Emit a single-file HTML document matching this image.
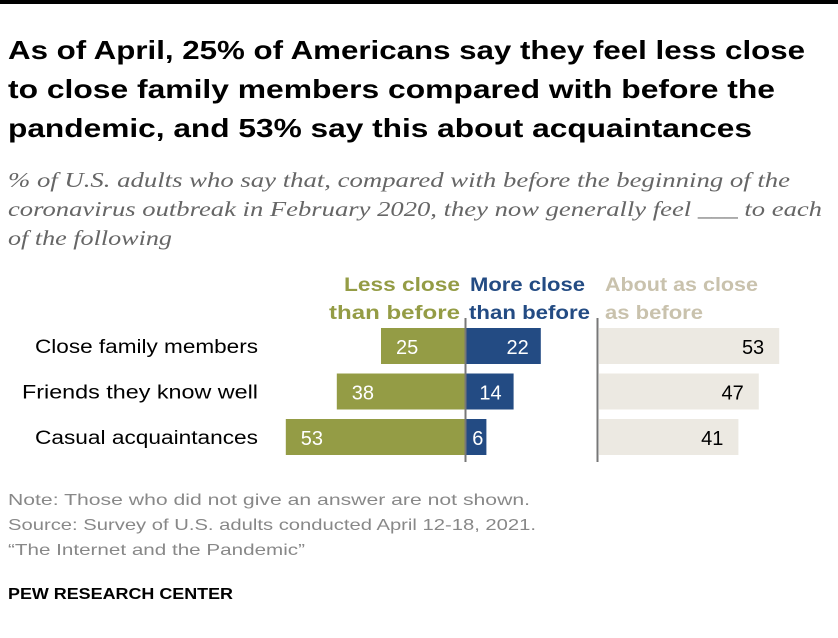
<!DOCTYPE html>
<html><head><meta charset="utf-8"><style>
body{margin:0;background:#fff;width:838px;height:638px;overflow:hidden;font-family:"Liberation Sans",sans-serif;position:relative}
.top{position:absolute;left:0;top:0;width:838px;height:4px;background:#000}
</style></head><body>
<div class="top"></div>
<svg id="c" width="838" height="638" style="position:absolute;left:0;top:0">
<g font-size="26" font-weight="bold" fill="#000" lengthAdjust="spacingAndGlyphs">
<text x="8" y="59" textLength="797" lengthAdjust="spacingAndGlyphs">As of April, 25% of Americans say they feel less close</text>
<text x="8" y="98" textLength="767" lengthAdjust="spacingAndGlyphs">to close family members compared with before the</text>
<text x="8" y="137" textLength="744" lengthAdjust="spacingAndGlyphs">pandemic, and 53% say this about acquaintances</text>
</g>
<g font-family="Liberation Serif, serif" font-style="italic" font-size="21" fill="#666">
<text x="8" y="187" textLength="782" lengthAdjust="spacingAndGlyphs">% of U.S. adults who say that, compared with before the beginning of the</text>
<text x="8" y="216" textLength="814" lengthAdjust="spacingAndGlyphs">coronavirus outbreak in February 2020, they now generally feel ___ to each</text>
<text x="8" y="245" textLength="164" lengthAdjust="spacingAndGlyphs">of the following</text>
</g>
<g font-size="16" fill="#888">
<text x="8" y="505" textLength="522" lengthAdjust="spacingAndGlyphs">Note: Those who did not give an answer are not shown.</text>
<text x="8" y="530" textLength="528" lengthAdjust="spacingAndGlyphs">Source: Survey of U.S. adults conducted April 12-18, 2021.</text>
<text x="8" y="555" textLength="297" lengthAdjust="spacingAndGlyphs">“The Internet and the Pandemic”</text>
<text x="8" y="599" textLength="225" lengthAdjust="spacingAndGlyphs" font-weight="bold" fill="#000">PEW RESEARCH CENTER</text>
</g>
</svg>
<script>
const categories=["Close family members","Friends they know well","Casual acquaintances"];
const lessClose=[25,38,53];
const moreClose=[22,14,6];
const aboutSame=[53,47,41];
const labelWidths=[223,236,223];
const NS="http://www.w3.org/2000/svg";
const svg=document.getElementById('c');
const k=3.4, zero=466, zero2=599;
const xL=v=>zero-v*k, xR=v=>zero+v*k, xA=v=>zero2+v*k;
const rowY=i=>328+i*45.5, bh=36;
function el(tag,attrs,txt){const e=document.createElementNS(NS,tag);for(const a in attrs)e.setAttribute(a,attrs[a]);if(txt!=null)e.textContent=txt;svg.appendChild(e);return e;}
const hdr=[["Less close",116,344,"than before",131,329,"#949c45"],["More close",115,470,"than before",121,469,"#234b83"],["About as close",153,605,"as before",98,605,"#c9c2ad"]];
hdr.forEach(h=>{
  const t=el('text',{x:h[2],y:291,'font-size':19,'font-weight':'bold',fill:h[6],textLength:h[1],lengthAdjust:'spacingAndGlyphs'},h[0]);
  
  
  const t2=el('text',{x:h[5],y:319,'font-size':19,'font-weight':'bold',fill:h[6],textLength:h[4],lengthAdjust:'spacingAndGlyphs'},h[3]);
  
  
});
categories.forEach((c,i)=>{
  const y=rowY(i);
  const l=el('text',{x:258-labelWidths[i],y:y+25,'font-size':19,fill:'#000',textLength:labelWidths[i],lengthAdjust:'spacingAndGlyphs'},c);
  
  
  const b1=el('rect',{x:xL(lessClose[i]),y:y,width:lessClose[i]*k,height:bh,fill:'#949c45'});
  
  
  el('text',{x:xL(lessClose[i])+15,y:y+26,'font-size':20,fill:'#fff'},lessClose[i]);
  const b2=el('rect',{x:zero,y:y,width:moreClose[i]*k,height:bh,fill:'#234b83'});
  
  
  el('text',{x:xR(moreClose[i])-(moreClose[i]<10?3:12),y:y+26,'font-size':20,fill:'#fff','text-anchor':'end'},moreClose[i]);
  const b3=el('rect',{x:zero2,y:y,width:aboutSame[i]*k,height:bh,fill:'#ece9e2'});
  
  
  el('text',{x:xA(aboutSame[i])-15,y:y+26,'font-size':20,fill:'#000','text-anchor':'end'},aboutSame[i]);
});
const z1=el('line',{x1:465.5,x2:465.5,y1:318,y2:462,stroke:'#777','stroke-width':2});


const z2=el('line',{x1:597.5,x2:597.5,y1:318,y2:462,stroke:'#777','stroke-width':2});


</script>
</body></html>
